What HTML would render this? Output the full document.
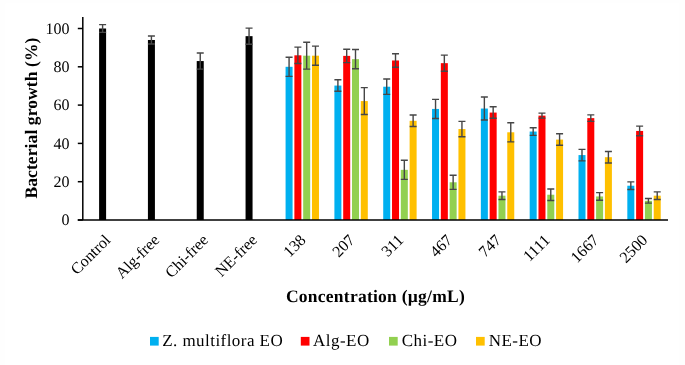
<!DOCTYPE html>
<html><head><meta charset="utf-8"><style>
html,body{margin:0;padding:0;background:#fff;}
body{width:685px;height:365px;overflow:hidden;}
svg{display:block;will-change:transform;}
text{text-rendering:geometricPrecision;}
.t{font-family:"Liberation Serif",serif;font-size:16px;fill:#000;}
.b{font-family:"Liberation Serif",serif;font-size:16px;font-weight:bold;fill:#000;}
</style></head><body>
<svg width="685" height="365" viewBox="0 0 685 365">
<rect width="685" height="365" fill="#fefefe"/><rect x="5.5" y="3.5" width="673.5" height="361.5" fill="#fff"/>
<rect x="99.10" y="28.50" width="7.00" height="191.50" fill="#000"/>
<path d="M102.60 24.67V32.33M99.10 24.67H106.10M99.10 32.33H106.10" stroke="#464646" stroke-width="1.4" fill="none"/>
<rect x="147.92" y="39.99" width="7.00" height="180.01" fill="#000"/>
<path d="M151.42 35.97V44.01M147.92 35.97H154.92M147.92 44.01H154.92" stroke="#464646" stroke-width="1.4" fill="none"/>
<rect x="196.74" y="61.06" width="7.00" height="158.94" fill="#000"/>
<path d="M200.24 53.01V69.10M196.74 53.01H203.74M196.74 69.10H203.74" stroke="#464646" stroke-width="1.4" fill="none"/>
<rect x="245.56" y="36.16" width="7.00" height="183.84" fill="#000"/>
<path d="M249.06 28.12V44.20M245.56 28.12H252.56M245.56 44.20H252.56" stroke="#464646" stroke-width="1.4" fill="none"/>
<rect x="285.58" y="66.80" width="7.00" height="153.20" fill="#00B0F0"/>
<path d="M289.08 57.22V76.38M285.58 57.22H292.58M285.58 76.38H292.58" stroke="#464646" stroke-width="1.4" fill="none"/>
<rect x="294.38" y="55.31" width="7.00" height="164.69" fill="#FF0000"/>
<path d="M297.88 47.08V63.54M294.38 47.08H301.38M294.38 63.54H301.38" stroke="#464646" stroke-width="1.4" fill="none"/>
<rect x="303.18" y="55.69" width="7.00" height="164.31" fill="#92D050"/>
<path d="M306.68 42.29V69.10M303.18 42.29H310.18M303.18 69.10H310.18" stroke="#464646" stroke-width="1.4" fill="none"/>
<rect x="311.98" y="55.69" width="7.00" height="164.31" fill="#FFC000"/>
<path d="M315.48 46.12V65.27M311.98 46.12H318.98M311.98 65.27H318.98" stroke="#464646" stroke-width="1.4" fill="none"/>
<rect x="334.40" y="85.57" width="7.00" height="134.43" fill="#00B0F0"/>
<path d="M337.90 79.82V91.31M334.40 79.82H341.40M334.40 91.31H341.40" stroke="#464646" stroke-width="1.4" fill="none"/>
<rect x="343.20" y="55.88" width="7.00" height="164.12" fill="#FF0000"/>
<path d="M346.70 49.18V62.59M343.20 49.18H350.20M343.20 62.59H350.20" stroke="#464646" stroke-width="1.4" fill="none"/>
<rect x="352.00" y="59.14" width="7.00" height="160.86" fill="#92D050"/>
<path d="M355.50 49.56V68.72M352.00 49.56H359.00M352.00 68.72H359.00" stroke="#464646" stroke-width="1.4" fill="none"/>
<rect x="360.80" y="101.08" width="7.00" height="118.92" fill="#FFC000"/>
<path d="M364.30 87.67V114.48M360.80 87.67H367.80M360.80 114.48H367.80" stroke="#464646" stroke-width="1.4" fill="none"/>
<rect x="383.22" y="86.72" width="7.00" height="133.28" fill="#00B0F0"/>
<path d="M386.72 79.06V94.38M383.22 79.06H390.22M383.22 94.38H390.22" stroke="#464646" stroke-width="1.4" fill="none"/>
<rect x="392.02" y="60.48" width="7.00" height="159.52" fill="#FF0000"/>
<path d="M395.52 53.78V67.18M392.02 53.78H399.02M392.02 67.18H399.02" stroke="#464646" stroke-width="1.4" fill="none"/>
<rect x="400.82" y="169.83" width="7.00" height="50.17" fill="#92D050"/>
<path d="M404.32 160.25V179.40M400.82 160.25H407.82M400.82 179.40H407.82" stroke="#464646" stroke-width="1.4" fill="none"/>
<rect x="409.62" y="120.80" width="7.00" height="99.20" fill="#FFC000"/>
<path d="M413.12 115.06V126.55M409.62 115.06H416.62M409.62 126.55H416.62" stroke="#464646" stroke-width="1.4" fill="none"/>
<rect x="432.04" y="108.93" width="7.00" height="111.07" fill="#00B0F0"/>
<path d="M435.54 99.36V118.50M432.04 99.36H439.04M432.04 118.50H439.04" stroke="#464646" stroke-width="1.4" fill="none"/>
<rect x="440.84" y="63.16" width="7.00" height="156.84" fill="#FF0000"/>
<path d="M444.34 55.12V71.20M440.84 55.12H447.84M440.84 71.20H447.84" stroke="#464646" stroke-width="1.4" fill="none"/>
<rect x="449.64" y="182.27" width="7.00" height="37.73" fill="#92D050"/>
<path d="M453.14 175.19V189.36M449.64 175.19H456.64M449.64 189.36H456.64" stroke="#464646" stroke-width="1.4" fill="none"/>
<rect x="458.44" y="129.04" width="7.00" height="90.96" fill="#FFC000"/>
<path d="M461.94 121.38V136.70M458.44 121.38H465.44M458.44 136.70H465.44" stroke="#464646" stroke-width="1.4" fill="none"/>
<rect x="480.86" y="108.55" width="7.00" height="111.45" fill="#00B0F0"/>
<path d="M484.36 97.06V120.04M480.86 97.06H487.86M480.86 120.04H487.86" stroke="#464646" stroke-width="1.4" fill="none"/>
<rect x="489.66" y="112.57" width="7.00" height="107.43" fill="#FF0000"/>
<path d="M493.16 106.82V118.31M489.66 106.82H496.66M489.66 118.31H496.66" stroke="#464646" stroke-width="1.4" fill="none"/>
<rect x="498.46" y="195.68" width="7.00" height="24.32" fill="#92D050"/>
<path d="M501.96 191.85V199.51M498.46 191.85H505.46M498.46 199.51H505.46" stroke="#464646" stroke-width="1.4" fill="none"/>
<rect x="507.26" y="132.29" width="7.00" height="87.71" fill="#FFC000"/>
<path d="M510.76 122.72V141.87M507.26 122.72H514.26M507.26 141.87H514.26" stroke="#464646" stroke-width="1.4" fill="none"/>
<rect x="529.68" y="131.53" width="7.00" height="88.47" fill="#00B0F0"/>
<path d="M533.18 127.70V135.36M529.68 127.70H536.68M529.68 135.36H536.68" stroke="#464646" stroke-width="1.4" fill="none"/>
<rect x="538.48" y="115.63" width="7.00" height="104.37" fill="#FF0000"/>
<path d="M541.98 113.14V118.12M538.48 113.14H545.48M538.48 118.12H545.48" stroke="#464646" stroke-width="1.4" fill="none"/>
<rect x="547.28" y="194.72" width="7.00" height="25.28" fill="#92D050"/>
<path d="M550.78 188.98V200.47M547.28 188.98H554.28M547.28 200.47H554.28" stroke="#464646" stroke-width="1.4" fill="none"/>
<rect x="556.08" y="139.57" width="7.00" height="80.43" fill="#FFC000"/>
<path d="M559.58 133.82V145.31M556.08 133.82H563.08M556.08 145.31H563.08" stroke="#464646" stroke-width="1.4" fill="none"/>
<rect x="578.50" y="155.08" width="7.00" height="64.92" fill="#00B0F0"/>
<path d="M582.00 149.34V160.83M578.50 149.34H585.50M578.50 160.83H585.50" stroke="#464646" stroke-width="1.4" fill="none"/>
<rect x="587.30" y="118.12" width="7.00" height="101.88" fill="#FF0000"/>
<path d="M590.80 114.87V121.38M587.30 114.87H594.30M587.30 121.38H594.30" stroke="#464646" stroke-width="1.4" fill="none"/>
<rect x="596.10" y="196.45" width="7.00" height="23.55" fill="#92D050"/>
<path d="M599.60 192.62V200.28M596.10 192.62H603.10M596.10 200.28H603.10" stroke="#464646" stroke-width="1.4" fill="none"/>
<rect x="604.90" y="157.19" width="7.00" height="62.81" fill="#FFC000"/>
<path d="M608.40 151.44V162.93M604.90 151.44H611.90M604.90 162.93H611.90" stroke="#464646" stroke-width="1.4" fill="none"/>
<rect x="627.32" y="185.72" width="7.00" height="34.28" fill="#00B0F0"/>
<path d="M630.82 181.89V189.55M627.32 181.89H634.32M627.32 189.55H634.32" stroke="#464646" stroke-width="1.4" fill="none"/>
<rect x="636.12" y="130.95" width="7.00" height="89.05" fill="#FF0000"/>
<path d="M639.62 126.17V135.74M636.12 126.17H643.12M636.12 135.74H643.12" stroke="#464646" stroke-width="1.4" fill="none"/>
<rect x="644.92" y="200.85" width="7.00" height="19.15" fill="#92D050"/>
<path d="M648.42 198.55V203.15M644.92 198.55H651.92M644.92 203.15H651.92" stroke="#464646" stroke-width="1.4" fill="none"/>
<rect x="653.72" y="195.68" width="7.00" height="24.32" fill="#FFC000"/>
<path d="M657.22 191.85V199.51M653.72 191.85H660.72M653.72 199.51H660.72" stroke="#464646" stroke-width="1.4" fill="none"/>
<path d="M82.80 17.00V220.00" stroke="#000" stroke-width="1.5" fill="none"/>
<path d="M77.80 220.00H668.00" stroke="#000" stroke-width="1.5" fill="none"/>
<path d="M77.80 220.00H82.80" stroke="#000" stroke-width="1.5" fill="none"/>
<text x="69.5" y="225.30" text-anchor="end" class="t">0</text>
<path d="M77.80 181.70H82.80" stroke="#000" stroke-width="1.5" fill="none"/>
<text x="69.5" y="187.00" text-anchor="end" class="t">20</text>
<path d="M77.80 143.40H82.80" stroke="#000" stroke-width="1.5" fill="none"/>
<text x="69.5" y="148.70" text-anchor="end" class="t">40</text>
<path d="M77.80 105.10H82.80" stroke="#000" stroke-width="1.5" fill="none"/>
<text x="69.5" y="110.40" text-anchor="end" class="t">60</text>
<path d="M77.80 66.80H82.80" stroke="#000" stroke-width="1.5" fill="none"/>
<text x="69.5" y="72.10" text-anchor="end" class="t">80</text>
<path d="M77.80 28.50H82.80" stroke="#000" stroke-width="1.5" fill="none"/>
<text x="69.5" y="33.80" text-anchor="end" class="t">100</text>
<text x="0" y="0" text-anchor="end" class="t" transform="translate(111.50 241.00) rotate(-45)">Control</text>
<text x="0" y="0" text-anchor="end" class="t" transform="translate(160.32 241.00) rotate(-45)">Alg-free</text>
<text x="0" y="0" text-anchor="end" class="t" transform="translate(209.14 241.00) rotate(-45)">Chi-free</text>
<text x="0" y="0" text-anchor="end" class="t" transform="translate(257.96 241.00) rotate(-45)">NE-free</text>
<text x="0" y="0" text-anchor="end" class="t" transform="translate(306.78 241.00) rotate(-45)">138</text>
<text x="0" y="0" text-anchor="end" class="t" transform="translate(355.60 241.00) rotate(-45)">207</text>
<text x="0" y="0" text-anchor="end" class="t" transform="translate(404.42 241.00) rotate(-45)">311</text>
<text x="0" y="0" text-anchor="end" class="t" transform="translate(453.24 241.00) rotate(-45)">467</text>
<text x="0" y="0" text-anchor="end" class="t" transform="translate(502.06 241.00) rotate(-45)">747</text>
<text x="0" y="0" text-anchor="end" class="t" transform="translate(550.88 241.00) rotate(-45)">1111</text>
<text x="0" y="0" text-anchor="end" class="t" transform="translate(599.70 241.00) rotate(-45)">1667</text>
<text x="0" y="0" text-anchor="end" class="t" transform="translate(648.52 241.00) rotate(-45)">2500</text>
<text x="0" y="0" text-anchor="middle" class="b" style="font-size:17.5px;letter-spacing:0.1px" transform="translate(37 118) rotate(-90)">Bacterial growth (%)</text>
<text x="375.5" y="302" text-anchor="middle" class="b" style="font-size:17.5px;letter-spacing:0.25px">Concentration (µg/mL)</text>
<rect x="150" y="336.9" width="8.7" height="8.7" fill="#00B0F0"/>
<text x="162.2" y="346.3" class="t" style="font-size:17px;letter-spacing:0.45px">Z. multiflora EO</text>
<rect x="300.8" y="336.9" width="8.7" height="8.7" fill="#FF0000"/>
<text x="313.1" y="346.3" class="t" style="font-size:17px;letter-spacing:0.45px">Alg-EO</text>
<rect x="389" y="336.9" width="8.7" height="8.7" fill="#92D050"/>
<text x="401.8" y="346.3" class="t" style="font-size:17px;letter-spacing:0.45px">Chi-EO</text>
<rect x="476" y="336.9" width="8.7" height="8.7" fill="#FFC000"/>
<text x="488.8" y="346.3" class="t" style="font-size:17px;letter-spacing:0.45px">NE-EO</text>
</svg>
</body></html>
